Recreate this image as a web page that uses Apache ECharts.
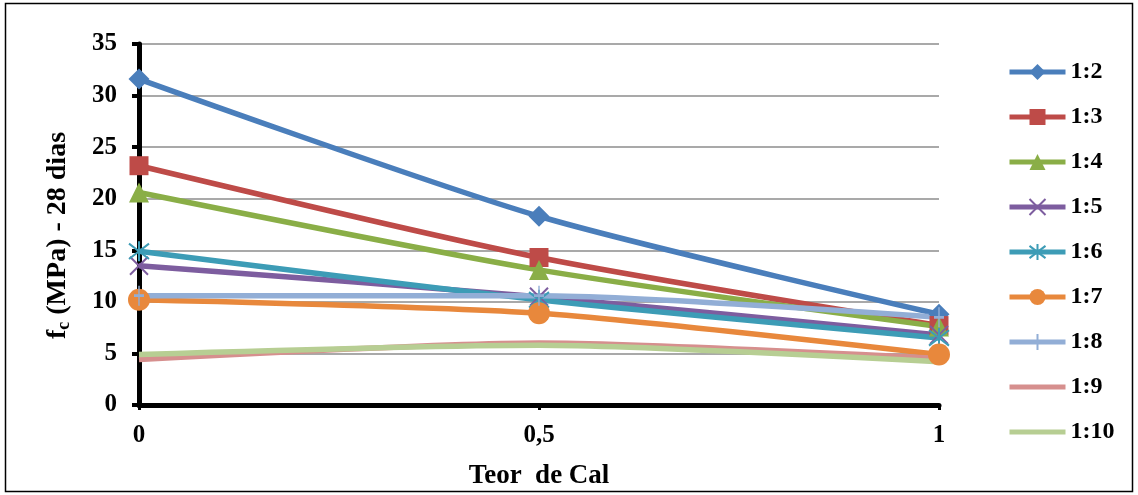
<!DOCTYPE html>
<html>
<head>
<meta charset="utf-8">
<script src="https://cdn.jsdelivr.net/npm/echarts@6/dist/echarts.min.js"></script>
<style>
  html, body { margin: 0; padding: 0; background: #fff; }
  #chart { width: 1138px; height: 495px; }
</style>
</head>
<body>
<div id="chart"></div>
<script>
// Lime content (Teor de Cal) on the x axis
const xValues = [0, 0.5, 1];
// Mix proportions (traços)
const seriesNames = ['1:2', '1:3', '1:4', '1:5', '1:6', '1:7', '1:8', '1:9', '1:10'];
// Compressive strength fc at 28 days (MPa) for each mix
const fc12 = [31.6, 18.3, 8.8];
const fc13 = [23.2, 14.3, 7.7];
const fc14 = [20.6, 13.1, 7.6];
const fc15 = [13.5, 10.5, 6.8];
const fc16 = [14.9, 10.2, 6.5];
const fc17 = [10.2, 8.9, 4.9];
const fc18 = [10.6, 10.6, 8.5];
const fc19 = [4.4, 6.0, 4.5];
const fc110 = [4.9, 5.8, 4.2];
const yTicks = [0, 5, 10, 15, 20, 25, 30, 35];

const allValues = [fc12, fc13, fc14, fc15, fc16, fc17, fc18, fc19, fc110];
const colors = ['#4A7EBB', '#BE4B48', '#8AAE47', '#7D5D9F', '#3D9CB6', '#E8883C', '#92AED6', '#D68F8E', '#B7CE93'];
// marker shapes; the cross, star and plus are stroked outlines
const symbols = [
  'diamond',
  'rect',
  'triangle',
  'path://M0,0L10,10M10,0L0,10',
  'path://M0,0L10,10M10,0L0,10M5,-1.5L5,11.5',
  'circle',
  'path://M3,6L9,6M6,0L6,12',
  'none',
  'none'
];
const symbolSizes = [21, 19, 20, 18, 20, 22, [10, 20], 10, 10];
const strokedSymbol = [false, false, false, true, true, false, true, false, false];

const serif = '"Liberation Serif", "DejaVu Serif", serif';

const series = seriesNames.map((name, i) => ({
  name: name,
  type: 'line',
  smooth: 0.25,
  data: xValues.map((x, j) => [x, allValues[i][j]]),
  symbol: symbols[i],
  symbolSize: symbolSizes[i],
  showSymbol: symbols[i] !== 'none',
  lineStyle: { color: colors[i], width: 5.5 },
  itemStyle: strokedSymbol[i]
    ? { color: 'rgba(0,0,0,0)', borderColor: colors[i], borderWidth: 2 }
    : { color: colors[i], borderWidth: 0 },
  emphasis: { disabled: true }
}));

// legend entries: plain line swatch for the series drawn without markers
const legendData = seriesNames.map((name, i) => symbols[i] === 'none'
  ? { name: name, icon: 'path://M0,0H56V5H0Z', itemStyle: { color: colors[i], borderWidth: 0 } }
  : { name: name });

const chart = echarts.init(document.getElementById('chart'), null, { renderer: 'canvas' });
chart.setOption({
  animation: false,
  backgroundColor: '#fff',
  grid: { left: 139, right: 199, top: 44, bottom: 90, containLabel: false },
  xAxis: {
    type: 'value',
    min: 0, max: 1, interval: 0.5,
    name: 'Teor  de Cal',
    nameLocation: 'middle',
    nameGap: 58,
    nameTextStyle: { fontFamily: serif, fontWeight: 'bold', fontSize: 27, color: '#000' },
    axisLine: { lineStyle: { color: '#000', width: 5 } },
    axisTick: { show: true, length: 5, lineStyle: { color: '#000', width: 3 } },
    axisLabel: {
      fontFamily: serif, fontWeight: 'bold', fontSize: 25, color: '#000', margin: 18,
      formatter: v => String(v).replace('.', ',')
    },
    splitLine: { show: false }
  },
  yAxis: {
    type: 'value',
    min: yTicks[0], max: yTicks[yTicks.length - 1], interval: 5,
    name: '{a|f}{b|c}{a| (MPa) - 28 dias}',
    nameLocation: 'middle',
    nameGap: 66,
    nameRotate: 90,
    nameTextStyle: {
      padding: [0, 22, 0, 0],
      rich: {
        a: { fontFamily: serif, fontWeight: 'bold', fontSize: 28, color: '#000' },
        b: { fontFamily: serif, fontWeight: 'bold', fontSize: 18, color: '#000', verticalAlign: 'bottom', padding: [12, 0, 0, 0] }
      }
    },
    axisLine: { show: true, lineStyle: { color: '#000', width: 5 } },
    axisTick: { show: true, length: 7, lineStyle: { color: '#000', width: 4 } },
    axisLabel: { fontFamily: serif, fontWeight: 'bold', fontSize: 25, color: '#000', margin: 22 },
    splitLine: { show: true, lineStyle: { color: '#8c8c8c', width: 1.5 } }
  },
  legend: {
    orient: 'vertical',
    left: 1002,
    top: 54,
    itemWidth: 56,
    itemHeight: 20,
    itemGap: 19,
    lineStyle: { width: 5 },
    textStyle: { fontFamily: serif, fontWeight: 'bold', fontSize: 24, lineHeight: 26, color: '#000' },
    data: legendData
  },
  graphic: [{
    type: 'rect',
    shape: { x: 5.5, y: 3.5, width: 1127, height: 488 },
    style: { fill: 'none', stroke: '#000', lineWidth: 1.5 },
    silent: true,
    z: -1
  }],
  series: series
});
</script>
</body>
</html>
